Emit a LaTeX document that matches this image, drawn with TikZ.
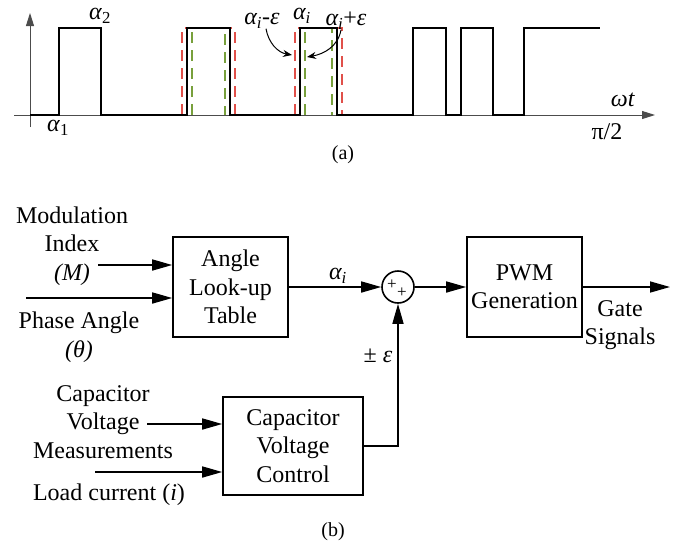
\documentclass[tikz,border=0pt]{standalone}
\usepackage{fontspec}
\setmainfont{Liberation Serif}
\usetikzlibrary{arrows.meta,positioning,calc}
\newcommand{\lowidx}[1]{\textsubscript{#1}}

\begin{document}
\begin{tikzpicture}[x=1pt,y=-1pt,
  >={Triangle[length=20pt,width=11pt]},
  every node/.style={font=\fontsize{24}{28.5}\selectfont},
  block/.style={rectangle, draw, line width=1.6pt, align=center, inner sep=0pt},
  sumnode/.style={circle, draw, line width=1.6pt, minimum size=32pt, inner sep=0pt},
  sig/.style={->, line width=1.6pt},
  txt/.style={align=center, inner sep=0pt},
  axlbl/.style={inner sep=0pt, font=\fontsize{24}{28}\selectfont},
  axis/.style={line width=0.9pt, black!70, -{Triangle[length=13pt,width=8pt]}},
  wave/.style={line width=2pt},
  redshift/.style={line width=1.5pt, draw={rgb,255:red,224;green,80;blue,74}, dash pattern=on 11pt off 7pt},
  greenshift/.style={line width=1.5pt, draw={rgb,255:red,120;green,160;blue,60}, dash pattern=on 11pt off 7pt},
  bendarrow/.style={line width=1pt, -{Stealth[length=9pt,width=7pt]}}
]
  \useasboundingbox (0,0) rectangle (686,547);

  % (a) switching angles
  \coordinate (o) at (30,115);
  \draw[axis] (14,115) -- (655,115);
  \draw[axis] (30,127) -- (30,13);

  \draw[redshift] (182,115) -- (182,28) -- (235,28) -- (235,115);
  \draw[redshift] (295,115) -- (295,28) -- (342,28) -- (342,115);
  \draw[greenshift] (192,115) -- (192,28) -- (225,28) -- (225,115);
  \draw[greenshift] (305,115) -- (305,28) -- (332,28) -- (332,115);

  \draw[wave] (o) -- (59,115) -- (59,28) -- (101,28) -- (101,115)
    -- (187,115) -- (187,28) -- (230,28) -- (230,115)
    -- (300,115) -- (300,28) -- (337,28) -- (337,115)
    -- (413,115) -- (413,28) -- (446,28) -- (446,115)
    -- (461,115) -- (461,28) -- (493,28) -- (493,115)
    -- (524,115) -- (524,28) -- (600,28);

  \node[axlbl] (a1) at (58,128) {\textit{α}\lowidx{1}};
  \node[axlbl] (a2) at (100,16) {\textit{α}\lowidx{2}};
  \node[axlbl] (ai) at (302,16) {\textit{α\lowidx{i}}};
  \node[axlbl] (aim) at (262,21) {\textit{α\lowidx{i}}-\textit{ε}};
  \node[axlbl] (aip) at (346,21) {\textit{α\lowidx{i}}+\textit{ε}};
  \node[axlbl] (wt) at (623,100) {\textit{ωt}};
  \node[axlbl] (pi2) at (607,132) {π/2};
  \node[axlbl, font=\fontsize{20}{24}\selectfont] (capa) at (343,155) {(a)};

  \coordinate (tipm) at (292,55);
  \coordinate (tipp) at (307,57);
  \draw[bendarrow] ([xshift=4pt]aim.south) to[out=-80,in=170] (tipm);
  \draw[bendarrow] ([xshift=-5pt]aip.south) to[out=-100,in=10] (tipp);

  % (b) control scheme
  \node[block, minimum width=115pt, minimum height=100pt] (alut) at (230.5,287) {Angle\\Look-up\\Table};
  \node[sumnode] (sum) at (398,287) {};
  \node[inner sep=0pt, font=\fontsize{17}{17}\selectfont] (plA) at ($(sum)+(-6,-2)$) {+};
  \node[inner sep=0pt, font=\fontsize{17}{17}\selectfont] (plB) at ($(sum)+(4,6)$) {+};
  \node[block, minimum width=115pt, minimum height=100pt] (pwm) at (524.5,287) {PWM\\Generation};
  \node[block, minimum width=140pt, minimum height=98pt] (cvc) at (293,446) {Capacitor\\Voltage\\Control};

  \node[txt] (modtxt) at (72,246) {Modulation\\Index\\\textit{(M)}};
  \node[txt] (phtxt) at (79,337) {Phase Angle\\\textit{(θ)}};
  \node[txt] (captxt) at (103,422) {Capacitor\\Voltage\\Measurements};
  \node[txt] (loadtxt) at (109,495) {Load current (\textit{i})};
  \node[txt] (gatetxt) at (620,325) {Gate\\Signals};
  \node[txt] (ailbl) at (338,276) {\textit{α\lowidx{i}}};
  \node[txt] (epslbl) at (378,356) {± \textit{ε}};
  \node[txt, font=\fontsize{20}{24}\selectfont] (capb) at (333,532) {(b)};

  \coordinate (mIn) at (98,265);
  \coordinate (thIn) at (26,298);
  \coordinate (vIn) at (147,424);
  \coordinate (iIn) at (95,472);
  \coordinate (gOut) at (670,287);

  \draw[sig] (mIn) -- (mIn -| alut.west);
  \draw[sig] (thIn) -- (thIn -| alut.west);
  \draw[sig] (vIn) -- (vIn -| cvc.west);
  \draw[sig] (iIn) -- (iIn -| cvc.west);
  \draw[sig] (alut) -- (sum);
  \draw[sig] (sum) -- (pwm);
  \draw[sig] (pwm) -- (gOut);
  \draw[sig] (cvc.east) -| (sum.south);
\end{tikzpicture}
\end{document}
